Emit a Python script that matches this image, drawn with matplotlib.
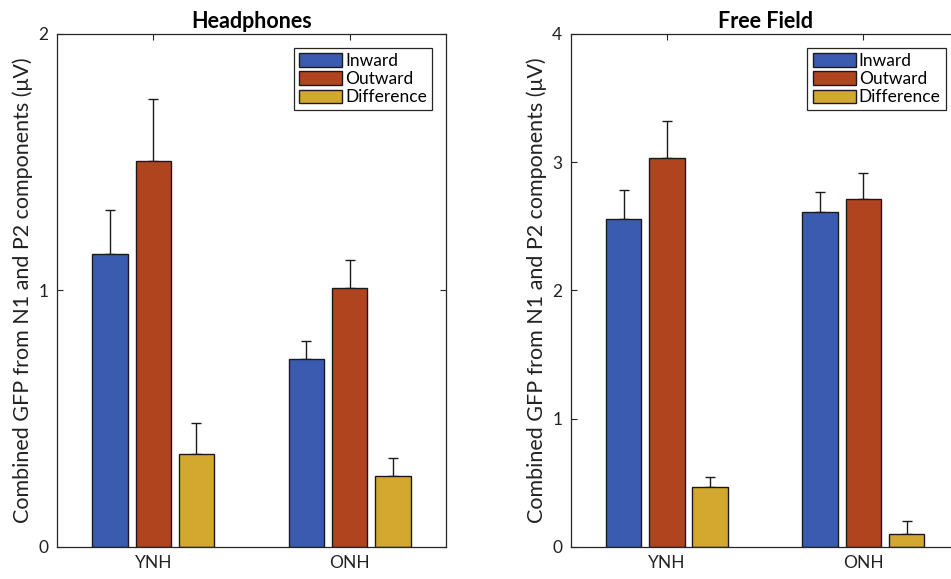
import numpy as np
import matplotlib.pyplot as plt

plt.rcParams['font.family'] = ['Lato', 'DejaVu Sans']

groups = ['YNH', 'ONH']
series = ['Inward', 'Outward', 'Difference']
colors = ['#3a5bb0', '#b0441f', '#d3a82e']

# Headphones: mean and upper error per group
hp_mean = {'Inward': [1.142, 0.733], 'Outward': [1.505, 1.011], 'Difference': [0.361, 0.277]}
hp_err = {'Inward': [0.172, 0.070], 'Outward': [0.240, 0.108], 'Difference': [0.124, 0.070]}

# Free field
ff_mean = {'Inward': [2.559, 2.610], 'Outward': [3.034, 2.711], 'Difference': [0.465, 0.099]}
ff_err = {'Inward': [0.226, 0.156], 'Outward': [0.288, 0.203], 'Difference': [0.078, 0.101]}

ylabel = 'Combined GFP from N1 and P2 components (\u03bcV)'
edge = '#262626'

fig = plt.figure(figsize=(9.51, 5.79), dpi=100)
ax1 = fig.add_axes([0.0599, 0.0553, 0.409, 0.886])
ax2 = fig.add_axes([0.6001, 0.0553, 0.409, 0.886])


def draw(ax, means, errs, title, ymax):
    x = np.arange(1, len(groups) + 1)
    offsets = [-0.22, 0.0, 0.22]
    for s, off, c in zip(series, offsets, colors):
        ax.bar(x + off, means[s], width=0.18, color=c, edgecolor='#1a1a1a',
               linewidth=1.0, label=s, zorder=2)
        ax.errorbar(x + off, means[s], yerr=[np.zeros(len(groups)), errs[s]],
                    fmt='none', ecolor='#1a1a1a', elinewidth=1.0, capsize=3.5,
                    capthick=1.0, zorder=1)
    ax.set_xlim(0.51, 2.49)
    ax.set_ylim(0, ymax)
    ax.set_xticks(x)
    ax.set_xticklabels(groups)
    ax.set_yticks(np.arange(0, ymax + 1))
    ax.tick_params(direction='in', length=4, width=0.8, colors=edge,
                   labelsize=12.5, top=True, right=True, pad=6)
    for lab in ax.get_xticklabels() + ax.get_yticklabels():
        lab.set_color('#222222')
    for sp in ax.spines.values():
        sp.set_color(edge)
        sp.set_linewidth(0.9)
    ax.set_title(title, fontsize=15.5, fontweight='bold', pad=4)
    ax.set_ylabel(ylabel, fontsize=15.5, color='#222222', labelpad=4)
    leg = ax.legend(loc='upper right', fontsize=12.5, frameon=True, fancybox=False,
                    edgecolor=edge, framealpha=1, borderaxespad=0.8,
                    handlelength=2.5, handleheight=0.8, handletextpad=0.15,
                    labelspacing=0.12, borderpad=0.3)
    leg.get_frame().set_linewidth(0.9)


draw(ax1, hp_mean, hp_err, 'Headphones', 2)
draw(ax2, ff_mean, ff_err, 'Free Field', 4)

fig.savefig('out.png', dpi=100)
